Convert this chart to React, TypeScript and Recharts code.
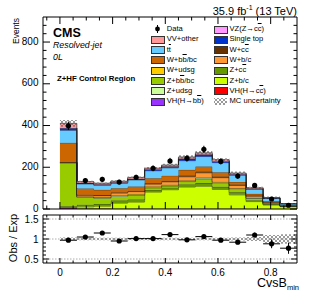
import { ComposedChart, Area, Scatter, ErrorBar, XAxis, YAxis, ReferenceLine } from "recharts";

const FONT = '"Liberation Sans", Arial, Helvetica, sans-serif';

// CvsB_min bin edges (14 bins)
const binEdges = [0, 0.0643, 0.1286, 0.1929, 0.2571, 0.3214, 0.3857, 0.45, 0.5143, 0.5786, 0.6429, 0.7071, 0.7714, 0.8357, 0.9];

// expected events per bin, stack order bottom -> top
const vhbb = [4, 2, 1.5, 1, 1, 0.8, 0.6, 0.5, 0.4, 0.3, 0.2, 0.1, 0.1, 0.05];
const vhcc = [0.2, 0.3, 0.3, 0.4, 0.5, 0.6, 0.8, 1, 1, 0.9, 0.7, 0.4, 0.2, 0.1];
const zbc = [3, 8, 12, 27, 32, 80, 91, 104, 108, 93, 67, 35, 19, 11];
const zcc = [6, 10, 10, 12, 12, 10, 10, 12, 15, 12, 12, 7, 3, 2];
const zbb = [205, 36, 28, 20, 20, 10, 8, 14, 20, 17, 14, 8, 3, 1];
const zudsg = [3, 2, 2, 3, 3, 3, 3, 2, 4, 4, 3, 2, 1, 0.5];
const wudsg = [1, 2, 2, 3, 3, 3, 3, 3, 3, 3, 2, 1, 0.5, 0.2];
const wbc = [2, 6, 8, 10, 12, 12, 14, 18, 22, 20, 14, 8, 4, 1.5];
const wcc = [1, 2, 3, 3, 4, 4, 5, 6, 6, 6, 5, 3, 2, 1];
const wbb = [92, 30, 25, 20, 20, 24, 24, 27, 24, 20, 12, 8, 4, 1];
const ttbar = [60, 22, 22, 24, 32, 36, 38, 44, 48, 46, 32, 22, 14, 6];
const stop = [10, 4, 4, 4, 5, 5, 6, 9, 9, 6, 4, 3, 1.5, 0.7];
const vzcc = [1, 1, 1, 1, 1, 1.5, 1.5, 2, 2, 2, 1.5, 1, 0.5, 0.3];
const vv = [22, 6, 5, 5, 6, 6, 6, 7, 7, 6, 5, 3, 1.5, 0.5];

const mcUnc = [0.04, 0.03, 0.03, 0.03, 0.03, 0.03, 0.03, 0.03, 0.03, 0.03, 0.04, 0.05, 0.1, 0.12];

const dataEvents = [399, 136, 142, 129, 152, 195, 230, 243, 286, 228, 158, 113, 48, 18];
const dataErr = [20, 12, 12, 11, 12, 14, 15, 16, 17, 15, 13, 11, 7, 4];

const ratio = [0.97, 1.05, 1.15, 0.95, 1.01, 1.01, 1.11, 0.98, 1.06, 0.97, 0.92, 1.1, 0.88, 0.77];
const ratioErr = [0.03, 0.05, 0.05, 0.05, 0.05, 0.04, 0.04, 0.04, 0.04, 0.04, 0.05, 0.06, 0.11, 0.14];

const xMajor = [0, 0.2, 0.4, 0.6, 0.8];
const yMajor = [0, 200, 400, 600, 800];
const rMajor = [0.5, 1, 1.5];

const xTicks = Array.from({ length: 19 }, (_, i) => Math.round((-0.05 + i * 0.05) * 100) / 100);
const yTicks = Array.from({ length: 23 }, (_, i) => i * 40);
const rTicks = Array.from({ length: 11 }, (_, i) => Math.round((0.5 + i * 0.1) * 10) / 10);

const Y_MAX = 920;

const processes = [
  { key: "vhbb", color: "#9933ff", values: vhbb },
  { key: "vhcc", color: "#ff0000", values: vhcc },
  { key: "zbc", color: "#ccff00", values: zbc },
  { key: "zcc", color: "#669900", values: zcc },
  { key: "zbb", color: "#99cc00", values: zbb },
  { key: "zudsg", color: "#ccff99", values: zudsg },
  { key: "wudsg", color: "#ffcc00", values: wudsg },
  { key: "wbc", color: "#ff9933", values: wbc },
  { key: "wcc", color: "#663300", values: wcc },
  { key: "wbb", color: "#cc6600", values: wbb },
  { key: "ttbar", color: "#66ccff", values: ttbar },
  { key: "stop", color: "#0033cc", values: stop },
  { key: "vzcc", color: "#ff99ff", values: vzcc },
  { key: "vv", color: "#ff9999", values: vv },
];

const nBins = dataEvents.length;

// step rows at bin edges, last edge repeats the last bin
const rows = binEdges.map((x, i) => {
  const b = Math.min(i, nBins - 1);
  const row: any = { x };
  let total = 0;
  processes.forEach((p) => {
    row[p.key] = p.values[b];
    total += p.values[b];
  });
  row.band = [total * (1 - mcUnc[b]), total * (1 + mcUnc[b])];
  row.ratioBand = [1 - mcUnc[b], 1 + mcUnc[b]];
  return row;
});

const points = dataEvents.map((y, i) => ({
  x: (binEdges[i] + binEdges[i + 1]) / 2,
  y,
  err: dataErr[i],
}));

const ratioPoints = ratio.map((y, i) => ({
  x: (binEdges[i] + binEdges[i + 1]) / 2,
  y,
  err: ratioErr[i],
  xerr: (binEdges[i + 1] - binEdges[i]) / 2,
}));

const isIn = (list: number[], v: number) => list.some((m) => Math.abs(m - v) < 1e-6);

function makeTick(side: string, majors: number[], majLen: number, minLen: number, fmt?: (v: number) => string) {
  return (props: any) => {
    const { x, y, payload } = props;
    const v = Number(payload.value);
    const major = isIn(majors, v);
    const len = major ? majLen : minLen;
    let line = null;
    let label = null;
    if (side === "bottom") {
      line = <line x1={x} y1={y} x2={x} y2={y - len} stroke="#000" strokeWidth={1} />;
      if (major && fmt)
        label = (
          <text x={x} y={y + 12.5} textAnchor="middle" fontSize={10} fontFamily={FONT} fill="#000">
            {fmt(v)}
          </text>
        );
    } else if (side === "top") {
      line = <line x1={x} y1={y} x2={x} y2={y + len} stroke="#000" strokeWidth={1} />;
    } else if (side === "left") {
      line = <line x1={x} y1={y} x2={x + len} y2={y} stroke="#000" strokeWidth={1} />;
      if (major && fmt)
        label = (
          <text x={x - 4.5} y={y + 3.6} textAnchor="end" fontSize={10} fontFamily={FONT} fill="#000">
            {fmt(v)}
          </text>
        );
    } else {
      line = <line x1={x} y1={y} x2={x - len} y2={y} stroke="#000" strokeWidth={1} />;
    }
    return (
      <g>
        {line}
        {label}
      </g>
    );
  };
}

const mainBottomTick = makeTick("bottom", xMajor, 7, 3.5);
const mainTopTick = makeTick("top", xMajor, 7, 3.5);
const mainLeftTick = makeTick("left", yMajor, 7, 3.5);
const mainRightTick = makeTick("right", yMajor, 7, 3.5);
const ratioBottomTick = makeTick("bottom", xMajor, 5, 2.5, (v) => (v === 0 ? "0" : v.toFixed(1)));
const ratioTopTick = makeTick("top", xMajor, 5, 2.5);
const ratioLeftTick = makeTick("left", rMajor, 6, 3, (v) => String(v));
const ratioRightTick = makeTick("right", rMajor, 6, 3);

const dot = (p: any) => <circle cx={p.cx} cy={p.cy} r={2.6} fill="#000" />;

function Hatch({ id }: { id: string }) {
  return (
    <defs>
      <pattern id={id} width="4" height="4" patternUnits="userSpaceOnUse">
        <path d="M0,0 L4,4 M4,0 L0,4" stroke="#555" strokeWidth="0.6" />
      </pattern>
    </defs>
  );
}

const Ov = ({ c }: { c: string }) => <span style={{ textDecoration: "overline" }}>{c}</span>;

const legendCol1 = [
  { color: "data", label: <>Data</> },
  { color: "#ff9999", label: <>VV+other</> },
  { color: "#66ccff", label: <>t<Ov c="t" /></> },
  { color: "#cc6600", label: <>W+b<Ov c="b" />/bc</> },
  { color: "#ffcc00", label: <>W+udsg</> },
  { color: "#99cc00", label: <>Z+b<Ov c="b" />/bc</> },
  { color: "#ccff99", label: <>Z+udsg</> },
  { color: "#9933ff", label: <>VH(H→b<Ov c="b" />)</> },
];
const legendCol2 = [
  { color: "#ff99ff", label: <>VZ(Z→c<Ov c="c" />)</> },
  { color: "#0033cc", label: <>Single top</> },
  { color: "#663300", label: <>W+c<Ov c="c" /></> },
  { color: "#ff9933", label: <>W+b/c</> },
  { color: "#669900", label: <>Z+c<Ov c="c" /></> },
  { color: "#ccff00", label: <>Z+b/c</> },
  { color: "#ff0000", label: <>VH(H→c<Ov c="c" />)</> },
  { color: "hatch", label: <>MC uncertainty</> },
];

function LegendRow({ x, y, color, label }: any) {
  let marker;
  if (color === "data") {
    marker = (
      <svg width={13} height={8} style={{ position: "absolute", left: x, top: y - 4 }}>
        <line x1={6.5} y1={0} x2={6.5} y2={8} stroke="#000" strokeWidth={1} />
        <circle cx={6.5} cy={4} r={2.4} fill="#000" />
      </svg>
    );
  } else if (color === "hatch") {
    marker = (
      <svg width={13} height={7} style={{ position: "absolute", left: x, top: y - 3.5 }}>
        <Hatch id="hatchLeg" />
        <rect x={0} y={0} width={13} height={7} fill="url(#hatchLeg)" />
      </svg>
    );
  } else {
    marker = (
      <div
        style={{
          position: "absolute",
          left: x,
          top: y - 3.5,
          width: 12,
          height: 6,
          background: color,
          border: "0.5px solid #333",
        }}
      />
    );
  }
  return (
    <>
      {marker}
      <div
        style={{
          position: "absolute",
          left: x + 16,
          top: y - 5,
          fontSize: 7.6,
          lineHeight: "10px",
          fontFamily: FONT,
          whiteSpace: "nowrap",
          color: "#000",
        }}
      >
        {label}
      </div>
    </>
  );
}

const axisCommon = {
  type: "number" as const,
  allowDataOverflow: true,
  interval: 0 as const,
  tickSize: 0,
  tickMargin: 0,
  tickLine: false,
  axisLine: { stroke: "#000", strokeWidth: 1 },
};

const mainMargin = { top: 16, right: 14, bottom: 5, left: 42 };
// main panel plot box, same numbers as the margins above
const plotTop = mainMargin.top + 1;
const plotBottom = 215 - mainMargin.bottom - 1;
const yPix = (v: number) => plotTop + ((Y_MAX - v) / Y_MAX) * (plotBottom - plotTop);

export default function App() {
  return (
    <div style={{ position: "absolute", left: 0, top: 0, width: 312, height: 299, background: "#fff", overflow: "hidden" }}>
      <div style={{ position: "absolute", left: 0, top: 0 }}>
        <ComposedChart width={312} height={215} data={rows} margin={mainMargin}>
          <Hatch id="hatchMain" />
          <XAxis {...axisCommon} dataKey="x" domain={[-0.0643, 0.9]} ticks={xTicks} height={1} tick={mainBottomTick} />
          <XAxis {...axisCommon} xAxisId="top" orientation="top" dataKey="x" domain={[-0.0643, 0.9]} ticks={xTicks} height={1} tick={mainTopTick} />
          <YAxis {...axisCommon} domain={[0, Y_MAX]} ticks={yTicks} width={1} tick={mainLeftTick} />
          <YAxis {...axisCommon} yAxisId="right" orientation="right" domain={[0, Y_MAX]} ticks={yTicks} width={1} tick={mainRightTick} />
          {processes.map((p) => (
            <Area
              key={p.key}
              dataKey={p.key}
              stackId="mc"
              type="stepAfter"
              fill={p.color}
              fillOpacity={1}
              stroke="#1a1a1a"
              strokeWidth={0.6}
              isAnimationActive={false}
            />
          ))}
          <Area dataKey="band" type="stepAfter" fill="url(#hatchMain)" fillOpacity={1} stroke="none" isAnimationActive={false} />
          <Scatter data={points} dataKey="y" shape={dot} isAnimationActive={false}>
            <ErrorBar dataKey="err" direction="y" width={0} stroke="#000" strokeWidth={1} />
          </Scatter>
        </ComposedChart>
      </div>

      <div style={{ position: "absolute", left: 0, top: 209 }}>
        <ComposedChart width={312} height={90} data={rows} margin={{ top: 5, right: 14, bottom: 35, left: 42 }}>
          <Hatch id="hatchRatio" />
          <XAxis {...axisCommon} dataKey="x" domain={[-0.0643, 0.9]} ticks={xTicks} height={1} tick={ratioBottomTick} />
          <XAxis {...axisCommon} xAxisId="top" orientation="top" dataKey="x" domain={[-0.0643, 0.9]} ticks={xTicks} height={1} tick={ratioTopTick} />
          <YAxis {...axisCommon} domain={[0.4, 1.6]} ticks={rTicks} width={1} tick={ratioLeftTick} />
          <YAxis {...axisCommon} yAxisId="right" orientation="right" domain={[0.4, 1.6]} ticks={rTicks} width={1} tick={ratioRightTick} />
          {rMajor.map((v) => (
            <ReferenceLine key={v} y={v} stroke="#999" strokeWidth={0.8} strokeDasharray="1.5 1.5" />
          ))}
          <Area dataKey="ratioBand" type="stepAfter" fill="url(#hatchRatio)" fillOpacity={1} stroke="none" isAnimationActive={false} />
          <Scatter data={ratioPoints} dataKey="y" shape={dot} isAnimationActive={false}>
            <ErrorBar dataKey="err" direction="y" width={0} stroke="#000" strokeWidth={1} />
            <ErrorBar dataKey="xerr" direction="x" width={0} stroke="#000" strokeWidth={1} />
          </Scatter>
        </ComposedChart>
      </div>

      <svg width={312} height={299} style={{ position: "absolute", left: 0, top: 0, pointerEvents: "none" }}>
        <text x={-18} y={19} transform="rotate(-90)" textAnchor="end" fontSize={8.5} fontFamily={FONT} fill="#000">
          Events
        </text>
        <text x={-238} y={16.5} transform="rotate(-90)" textAnchor="middle" fontSize={11} fontFamily={FONT} fill="#000">
          Obs / Exp
        </text>
        <text x={299} y={287} textAnchor="end" fontSize={12.5} fontFamily={FONT} fill="#000">
          CvsB
          <tspan fontSize={7.5} dy={3}>
            min
          </tspan>
        </text>
        <text x={297} y={14.5} textAnchor="end" fontSize={11} fontFamily={FONT} fill="#000">
          35.9 fb
          <tspan fontSize={7} dy={-4.5}>
            -1
          </tspan>
          <tspan dy={4.5}> (13 TeV)</tspan>
        </text>
        <text x={53} y={37} fontSize={12.5} fontWeight="bold" fontFamily={FONT} fill="#000">
          CMS
        </text>
        <text x={53} y={48} fontSize={8.8} fontStyle="italic" fontFamily={FONT} fill="#000">
          Resolved-jet
        </text>
        <text x={53} y={60} fontSize={8.8} fontStyle="italic" fontFamily={FONT} fill="#000">
          0L
        </text>
        <text x={57} y={80.5} fontSize={7.8} fontWeight="bold" fontFamily={FONT} fill="#000">
          Z+HF Control Region
        </text>
      </svg>

      {legendCol1.map((e, i) => (
        <LegendRow key={"a" + i} x={150.7} y={29 + i * 10.3} color={e.color} label={e.label} />
      ))}
      {legendCol2.map((e, i) => (
        <LegendRow key={"b" + i} x={213.5} y={29 + i * 10.3} color={e.color} label={e.label} />
      ))}

      {/* event-count labels of the main panel's left axis */}
      {yMajor.map((v) => (
        <div
          key={"yl" + v}
          style={{
            position: "absolute",
            left: 0,
            width: 38.5,
            top: yPix(v) - 6.5,
            height: 12,
            lineHeight: "12px",
            textAlign: "right",
            fontSize: 10,
            fontFamily: FONT,
            color: "#000",
            zIndex: 10,
            whiteSpace: "nowrap",
          }}
        >
          {String(v)}
        </div>
      ))}
    </div>
  );
}
